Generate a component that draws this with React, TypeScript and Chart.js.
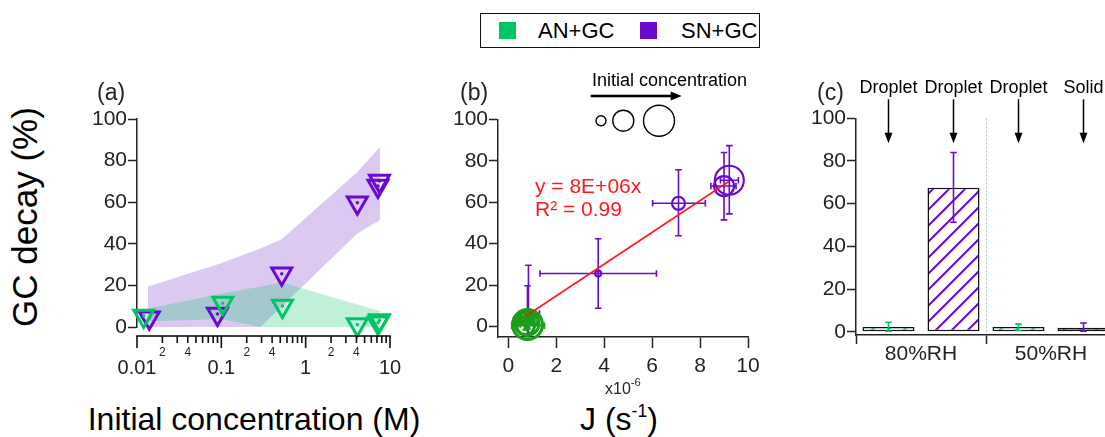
import React, { useEffect, useRef } from 'react';
import { Chart, registerables } from 'chart.js';

Chart.register(...registerables);

const FONT = '"Liberation Sans", Arial, Helvetica, sans-serif';
const INK = '#232323';
const GREEN = '#00C466';
const GREEN_B = '#18A018';
const PURPLE = '#6A0ACD';
const RED = '#FF1A1A';

// ---------- Panel (a): GC decay vs initial concentration ----------
const A_CONC_AN = [0.012, 0.104, 0.53, 4.1, 7.2, 7.5];
const A_DECAY_AN = [5.3, 11.5, 10.1, 1.2, 2.0, 3.1];
const A_CONC_SN = [0.014, 0.09, 0.52, 4.1, 7.2, 7.5];
const A_DECAY_SN = [4.4, 6.3, 25.6, 59.7, 67.8, 70.2];
const A_BAND_X_AN = [0.0108, 0.1, 0.29, 0.52, 7.6];
const A_BAND_HI_AN = [8, 16, 19.5, 21.4, 7.7];
const A_BAND_LO_AN = [2.5, 3.8, 0, 0, 0];
const A_BAND_X_SN = [0.0135, 0.097, 0.29, 0.52, 4.1, 7.6];
const A_BAND_HI_SN = [19.5, 30.5, 37.8, 42.2, 74.5, 86.5];
const A_BAND_LO_SN = [0, 0, 0, 9.9, 45, 51.5];
const A_Y_TICKS = [0, 20, 40, 60, 80, 100];
const A_X_MAJOR = [0.01, 0.1, 1, 10];
const A_X_MAJOR_LABELS = ['0.01', '0.1', '1', '10'];
const A_X_MINOR_MULT = [2, 3, 4, 5, 6, 7, 8, 9];
const A_X_MINOR_LABELLED = [2, 4];

// ---------- Panel (b): GC decay vs J (x10^-6 s^-1) ----------
const B_J_SN = [0.8, 0.84, 3.75, 7.1, 9.0, 9.22];
const B_DECAY_SN = [4.4, 6.3, 25.6, 59.5, 67.8, 70.6];
const B_JLO_SN = [0.55, 0.5, 1.32, 6.02, 8.45, 8.85];
const B_JHI_SN = [1.1, 1.3, 6.18, 8.22, 9.5, 9.6];
const B_YLO_SN = [-11, -17, 8.9, 43.8, 51.5, 54.4];
const B_YHI_SN = [19.7, 29.6, 42.4, 75.7, 84, 87.3];
const B_R_SN = [2, 3, 3, 6.5, 10, 14.5];
const B_J_AN = [0.8, 0.86, 0.75, 0.72, 0.78, 0.8];
const B_DECAY_AN = [4, 5, 3, 0.5, 1.5, 1];
const B_JLO_AN = [0.5, 0.55, 0.45, 0.15, 0.4, 0.5];
const B_JHI_AN = [1.1, 1.2, 1.05, 1.5, 1.2, 1.1];
const B_YLO_AN = [2, 3, 1, -1.5, -0.5, -1];
const B_YHI_AN = [6, 7.5, 5, 2.5, 3.5, 3];
const B_R_AN = [2.5, 3.5, 5, 9, 12, 15];
const B_FIT_J = [0.72, 9.2];
const B_FIT_Y = [5, 70];
const B_X_TICKS = [0, 2, 4, 6, 8, 10];
const B_Y_TICKS = [0, 20, 40, 60, 80, 100];
const B_KEY_DX = [103, 125.3, 161];
const B_KEY_R = [5, 10.5, 15.5];

// ---------- Panel (c): bars ----------
const C_CATEGORIES = ['AN+GC 80%RH', 'SN+GC 80%RH', 'AN+GC 50%RH', 'SN+GC 50%RH'];
const C_STATES = ['Droplet', 'Droplet', 'Droplet', 'Solid'];
const C_GROUPS = ['80%RH', '50%RH'];
const C_AN = [2.2, null, 2.2, null];
const C_SN = [null, 67.5, null, 1.9];
const C_AN_LO = [0.3, null, 0.6, null];
const C_AN_HI = [4.5, null, 3.6, null];
const C_SN_LO = [null, 51.3, null, 0.3];
const C_SN_HI = [null, 84, null, 4.1];
const C_Y_TICKS = [0, 20, 40, 60, 80, 100];

const SERIES = ['AN+GC', 'SN+GC'];
const SERIES_COLORS = [GREEN, PURPLE];

const pts = (xs: number[], ys: number[]) => xs.map((x, i) => ({ x, y: ys[i] }));

function yAxis(min: number, max: number, ticks: number[], width: number) {
  return {
    type: 'linear' as const,
    position: 'left' as const,
    min,
    max,
    afterBuildTicks: (s: any) => {
      s.ticks = ticks.map((v) => ({ value: v }));
    },
    afterFit: (s: any) => {
      s.width = width;
    },
    grid: { display: true, drawOnChartArea: false, drawTicks: true, tickLength: 9, tickColor: INK, tickWidth: 1.5 },
    border: { display: true, color: INK, width: 1.5 },
    ticks: { color: INK, font: { family: FONT, size: 21 }, padding: 1, autoSkip: false },
  };
}

type ErrSet = {
  dataset: number;
  xs: (number | null)[];
  ys: (number | null)[];
  xlo?: (number | null)[];
  xhi?: (number | null)[];
  ylo?: (number | null)[];
  yhi?: (number | null)[];
  color: string;
  width: number;
  cap: number;
};

function errorBars(sets: ErrSet[]) {
  return {
    id: 'errorBars',
    afterDatasetDraw(chart: any, args: any) {
      const { ctx, chartArea: a } = chart;
      const sx = chart.scales.x;
      const sy = chart.scales.y;
      for (const s of sets) {
        if (s.dataset !== args.index) continue;
        ctx.save();
        ctx.beginPath();
        ctx.rect(a.left, a.top - 20, a.right - a.left, a.bottom - a.top + 20);
        ctx.clip();
        ctx.setLineDash([]);
        ctx.strokeStyle = s.color;
        ctx.lineWidth = s.width;
        ctx.beginPath();
        s.xs.forEach((xv, i) => {
          const yv = s.ys[i];
          if (xv == null || yv == null) return;
          const px = sx.getPixelForValue(xv);
          const py = sy.getPixelForValue(yv);
          if (s.ylo && s.yhi && s.ylo[i] != null && s.yhi[i] != null) {
            const p1 = sy.getPixelForValue(s.ylo[i] as number);
            const p2 = sy.getPixelForValue(s.yhi[i] as number);
            ctx.moveTo(px, p1);
            ctx.lineTo(px, p2);
            ctx.moveTo(px - s.cap, p1);
            ctx.lineTo(px + s.cap, p1);
            ctx.moveTo(px - s.cap, p2);
            ctx.lineTo(px + s.cap, p2);
          }
          if (s.xlo && s.xhi && s.xlo[i] != null && s.xhi[i] != null) {
            const q1 = sx.getPixelForValue(s.xlo[i] as number);
            const q2 = sx.getPixelForValue(s.xhi[i] as number);
            ctx.moveTo(q1, py);
            ctx.lineTo(q2, py);
            ctx.moveTo(q1, py - s.cap);
            ctx.lineTo(q1, py + s.cap);
            ctx.moveTo(q2, py - s.cap);
            ctx.lineTo(q2, py + s.cap);
          }
        });
        ctx.stroke();
        ctx.restore();
      }
    },
  };
}

// Detached logarithmic x axis of panel (a), drawn from the chart's own log scale
const logAxisA = {
  id: 'logAxisA',
  afterDraw(chart: any) {
    const { ctx, chartArea } = chart;
    const sx = chart.scales.x;
    const y0 = Math.round(chartArea.bottom + 9);
    const lw = 1.6;
    ctx.save();
    ctx.setLineDash([]);
    ctx.fillStyle = '#111';
    const x0 = sx.getPixelForValue(A_X_MAJOR[0]);
    const x1 = sx.getPixelForValue(A_X_MAJOR[A_X_MAJOR.length - 1]);
    ctx.fillRect(x0 - lw / 2, y0 - lw / 2, x1 - x0 + lw, lw);
    A_X_MAJOR.forEach((v, i) => {
      const px = sx.getPixelForValue(v);
      ctx.fillRect(px - lw / 2, y0, lw, 12);
      if (i < A_X_MAJOR.length - 1) {
        A_X_MINOR_MULT.forEach((m) => {
          const mp = sx.getPixelForValue(v * m);
          ctx.fillRect(mp - lw / 2, y0, lw, 7);
        });
      }
    });
    ctx.fillStyle = INK;
    ctx.textAlign = 'center';
    ctx.textBaseline = 'middle';
    A_X_MAJOR.forEach((v, i) => {
      const px = sx.getPixelForValue(v);
      ctx.font = `20px ${FONT}`;
      ctx.fillText(A_X_MAJOR_LABELS[i], px, y0 + 32);
      if (i < A_X_MAJOR.length - 1) {
        ctx.font = `12px ${FONT}`;
        A_X_MINOR_LABELLED.forEach((m) => {
          ctx.fillText(String(m), sx.getPixelForValue(v * m), y0 + 16.5);
        });
      }
    });
    ctx.restore();
  },
};

const sizeKeyB = {
  id: 'sizeKeyB',
  afterDraw(chart: any) {
    const { ctx, chartArea } = chart;
    const { left, top } = chartArea;
    const y = top - 23.3;
    const x1 = left + 92.7;
    const x2 = left + 183.7;
    ctx.save();
    ctx.setLineDash([]);
    ctx.strokeStyle = '#000';
    ctx.fillStyle = '#000';
    ctx.fillRect(x1, y - 1.3, x2 - 9 - x1, 2.6);
    ctx.beginPath();
    ctx.moveTo(x2 - 11, y - 4.5);
    ctx.lineTo(x2, y);
    ctx.lineTo(x2 - 11, y + 4.5);
    ctx.closePath();
    ctx.fill();
    ctx.lineWidth = 1.4;
    B_KEY_DX.forEach((dx, i) => {
      ctx.beginPath();
      ctx.arc(left + dx, top + 1.4, B_KEY_R[i], 0, Math.PI * 2);
      ctx.stroke();
    });
    ctx.restore();
  },
};

const arrowsC = {
  id: 'arrowsC',
  afterDraw(chart: any) {
    const { ctx, chartArea } = chart;
    const sx = chart.scales.x;
    const top = chartArea.top;
    ctx.save();
    ctx.setLineDash([]);
    ctx.fillStyle = '#000';
    C_STATES.forEach((_, i) => {
      const px = sx.getPixelForValue(i);
      ctx.fillRect(px - 0.75, top - 19, 1.5, 35);
      ctx.beginPath();
      ctx.moveTo(px - 4, top + 14.5);
      ctx.lineTo(px + 4, top + 14.5);
      ctx.lineTo(px, top + 25);
      ctx.closePath();
      ctx.fill();
    });
    ctx.restore();
  },
};

function hatch(bg: string, fg: string): CanvasPattern {
  const s = 16;
  const c = document.createElement('canvas');
  c.width = s;
  c.height = s;
  const g = c.getContext('2d')!;
  g.fillStyle = bg;
  g.fillRect(0, 0, s, s);
  g.strokeStyle = fg;
  g.lineWidth = 2;
  g.beginPath();
  g.moveTo(-2, s + 2);
  g.lineTo(s + 2, -2);
  g.moveTo(-2, 2);
  g.lineTo(2, -2);
  g.moveTo(s - 2, s + 2);
  g.lineTo(s + 2, s - 2);
  g.stroke();
  return g.createPattern(c, 'repeat')!;
}

const base = {
  responsive: false,
  animation: false as const,
  devicePixelRatio: 1,
  events: [] as any[],
};

function configA(): any {
  const tri = (xs: number[], ys: number[], color: string) => ({
    type: 'scatter',
    data: pts(xs, ys),
    pointStyle: 'triangle',
    pointRotation: 180,
    pointRadius: 11.5,
    pointBorderWidth: 3,
    pointBorderColor: color,
    pointBackgroundColor: 'rgba(0,0,0,0)',
    clip: false,
  });
  const dot = (xs: number[], ys: number[], color: string) => ({
    type: 'scatter',
    data: pts(xs, ys),
    pointRadius: 1.7,
    pointBorderWidth: 0,
    pointBackgroundColor: color,
    clip: false,
  });
  const band = (xs: number[], ys: number[], color: string, target: number | boolean) => ({
    type: 'line',
    data: pts(xs, ys),
    borderColor: 'rgba(0,0,0,0)',
    borderWidth: 0,
    pointRadius: 0,
    tension: 0,
    backgroundColor: color,
    fill: target === false ? false : { target },
  });
  return {
    type: 'scatter',
    data: {
      datasets: [
        { ...dot(A_CONC_AN, A_DECAY_AN, GREEN), label: SERIES[0] },
        { ...tri(A_CONC_AN, A_DECAY_AN, GREEN), label: SERIES[0] },
        { ...dot(A_CONC_SN, A_DECAY_SN, PURPLE), label: SERIES[1] },
        { ...tri(A_CONC_SN, A_DECAY_SN, PURPLE), label: SERIES[1] },
        band(A_BAND_X_AN, A_BAND_HI_AN, 'rgba(0,200,100,0.25)', 5),
        band(A_BAND_X_AN, A_BAND_LO_AN, 'rgba(0,0,0,0)', false),
        band(A_BAND_X_SN, A_BAND_HI_SN, 'rgba(100,20,200,0.23)', 7),
        band(A_BAND_X_SN, A_BAND_LO_SN, 'rgba(0,0,0,0)', false),
      ],
    },
    options: {
      ...base,
      layout: { padding: { left: 0, top: 59, right: 30, bottom: 63 } },
      plugins: { legend: { display: false }, tooltip: { enabled: false } },
      scales: {
        x: { type: 'logarithmic', min: 0.01, max: 10, display: false },
        y: yAxis(0, 100, A_Y_TICKS, 77),
      },
    },
    plugins: [logAxisA],
  };
}

function configB(): any {
  return {
    type: 'scatter',
    data: {
      datasets: [
        {
          type: 'line',
          label: 'fit',
          data: pts(B_FIT_J, B_FIT_Y),
          borderColor: RED,
          borderWidth: 1.6,
          pointRadius: 0,
          tension: 0,
          fill: false,
        },
        {
          type: 'scatter',
          label: SERIES[0],
          data: pts(B_J_AN, B_DECAY_AN),
          pointRadius: B_R_AN,
          pointBorderWidth: 3,
          pointBorderColor: GREEN_B,
          pointBackgroundColor: 'rgba(0,0,0,0)',
          clip: false,
        },
        {
          type: 'scatter',
          label: SERIES[1],
          data: pts(B_J_SN, B_DECAY_SN),
          pointRadius: B_R_SN,
          pointBorderWidth: 2.2,
          pointBorderColor: PURPLE,
          pointBackgroundColor: 'rgba(0,0,0,0)',
          clip: false,
        },
      ],
    },
    options: {
      ...base,
      layout: { padding: { left: 0, top: 59.3, right: 22, bottom: 0 } },
      plugins: { legend: { display: false }, tooltip: { enabled: false } },
      scales: {
        x: {
          type: 'linear',
          position: 'bottom',
          min: -0.43,
          max: 10,
          afterBuildTicks: (s: any) => {
            s.ticks = B_X_TICKS.map((v) => ({ value: v }));
          },
          afterFit: (s: any) => {
            s.height = 43;
          },
          grid: { display: true, drawOnChartArea: false, tickLength: 11, tickColor: INK, tickWidth: 1.5 },
          border: { display: true, color: INK, width: 1.5 },
          ticks: { color: INK, font: { family: FONT, size: 21 }, padding: 6, maxRotation: 0, autoSkip: false },
        },
        y: yAxis(-5, 100, B_Y_TICKS, 58),
      },
    },
    plugins: [
      errorBars([
        { dataset: 1, xs: B_J_AN, ys: B_DECAY_AN, xlo: B_JLO_AN, xhi: B_JHI_AN, ylo: B_YLO_AN, yhi: B_YHI_AN, color: GREEN_B, width: 2, cap: 3.3 },
        { dataset: 2, xs: B_J_SN, ys: B_DECAY_SN, xlo: B_JLO_SN, xhi: B_JHI_SN, ylo: B_YLO_SN, yhi: B_YHI_SN, color: PURPLE, width: 1.6, cap: 3.3 },
      ]),
      sizeKeyB,
    ],
  };
}

function configC(): any {
  const idx = C_CATEGORIES.map((_, i) => i);
  const hatchAN = hatch('#ffffff', GREEN);
  const hatchSN = hatch('#ffffff', PURPLE);
  const hatchSNgrey = hatch('#9a9a9a', PURPLE);
  return {
    type: 'bar',
    data: {
      labels: C_CATEGORIES,
      datasets: [
        {
          label: SERIES[0],
          data: C_AN,
          xAxisID: 'x',
          yAxisID: 'y',
          grouped: false,
          barPercentage: 0.8,
          categoryPercentage: 1,
          backgroundColor: [hatchAN, hatchAN, hatchAN, hatchAN],
          borderColor: '#111',
          borderWidth: 1.5,
          borderSkipped: false,
        },
        {
          label: SERIES[1],
          data: C_SN,
          xAxisID: 'x',
          yAxisID: 'y',
          grouped: false,
          barPercentage: 0.8,
          categoryPercentage: 1,
          backgroundColor: [hatchSN, hatchSN, hatchSN, hatchSNgrey],
          borderColor: '#111',
          borderWidth: 1.5,
          borderSkipped: false,
        },
      ],
    },
    options: {
      ...base,
      layout: { padding: { left: 0, top: 0, right: 14, bottom: 0 } },
      plugins: { legend: { display: false }, tooltip: { enabled: false } },
      scales: {
        x: { type: 'category', display: false, offset: true },
        x2: {
          type: 'category',
          labels: C_GROUPS,
          position: 'bottom',
          offset: true,
          afterFit: (s: any) => {
            s.height = 45;
          },
          grid: {
            display: true,
            offset: true,
            drawOnChartArea: true,
            color: (c: any) => (c.index === 1 ? '#b5b5b5' : 'rgba(0,0,0,0)'),
            lineWidth: 1,
            tickLength: 9,
            tickColor: INK,
            tickWidth: 1.5,
          },
          border: { display: true, color: INK, width: 1.5, dash: [2, 2] },
          ticks: { color: INK, font: { family: FONT, size: 21 }, padding: -2, maxRotation: 0, autoSkip: false },
        },
        x3: {
          type: 'category',
          labels: C_STATES,
          position: 'top',
          offset: true,
          afterFit: (s: any) => {
            s.height = 58.3;
          },
          grid: { display: false },
          border: { display: false },
          ticks: { color: '#000', font: { family: FONT, size: 18 }, padding: 11, maxRotation: 0, autoSkip: false },
        },
        y: yAxis(-1.5, 100, C_Y_TICKS, 66),
      },
    },
    plugins: [
      errorBars([
        { dataset: 0, xs: idx, ys: C_AN, ylo: C_AN_LO, yhi: C_AN_HI, color: GREEN, width: 1.6, cap: 3.3 },
        { dataset: 1, xs: idx, ys: C_SN, ylo: C_SN_LO, yhi: C_SN_HI, color: PURPLE, width: 1.6, cap: 3.3 },
      ]),
      arrowsC,
    ],
  };
}

function T(props: { x: number; y: number; size: number; anchor?: 'left' | 'center'; color?: string; children: React.ReactNode }) {
  const { x, y, size, anchor = 'left', color = INK, children } = props;
  return (
    <div
      style={{
        position: 'absolute',
        left: x,
        top: y,
        fontSize: size,
        lineHeight: 1,
        color,
        whiteSpace: 'nowrap',
        transform: `translate(${anchor === 'center' ? '-50%' : '0'}, -50%)`,
      }}
    >
      {children}
    </div>
  );
}

export default function App() {
  const refA = useRef<HTMLCanvasElement>(null);
  const refB = useRef<HTMLCanvasElement>(null);
  const refC = useRef<HTMLCanvasElement>(null);

  useEffect(() => {
    const charts: Chart[] = [];
    if (refA.current) charts.push(new Chart(refA.current, configA()));
    if (refB.current) charts.push(new Chart(refB.current, configB()));
    if (refC.current) charts.push(new Chart(refC.current, configC()));
    return () => charts.forEach((c) => c.destroy());
  }, []);

  const cv = (left: number, top: number, w: number, h: number): React.CSSProperties => ({
    position: 'absolute',
    left,
    top,
    width: w,
    height: h,
  });

  return (
    <div
      style={{
        position: 'fixed',
        left: 0,
        top: 0,
        width: 1105,
        height: 437,
        overflow: 'hidden',
        background: '#fff',
        fontFamily: FONT,
        color: INK,
      }}
    >
      <canvas ref={refA} width={360} height={330} style={cv(60, 60, 360, 330)} />
      <canvas ref={refB} width={330} height={320} style={cv(440, 60, 330, 320)} />
      <canvas ref={refC} width={340} height={320} style={cv(790, 60, 340, 320)} />

      {/* legend */}
      <div
        style={{
          position: 'absolute',
          left: 480,
          top: 13,
          width: 280,
          height: 35,
          boxSizing: 'border-box',
          border: '1.5px solid #111',
        }}
      />
      {SERIES.map((name, i) => (
        <React.Fragment key={name}>
          <div style={{ position: 'absolute', left: i === 0 ? 499 : 640, top: 22, width: 17, height: 17, background: SERIES_COLORS[i] }} />
          <T x={i === 0 ? 538 : 681} y={30.5} size={22} color="#000">
            {name}
          </T>
        </React.Fragment>
      ))}

      <T x={97} y={92} size={23}>(a)</T>
      <T x={460} y={92} size={23}>(b)</T>
      <T x={817} y={92} size={23}>(c)</T>

      <div
        style={{
          position: 'absolute',
          left: 24,
          top: 217,
          fontSize: 35,
          lineHeight: 1,
          whiteSpace: 'nowrap',
          color: '#000',
          transform: 'translate(-50%, -50%) rotate(-90deg)',
        }}
      >
        GC decay (%)
      </div>

      <T x={254} y={419} size={32} anchor="center" color="#000">
        Initial concentration (M)
      </T>
      <T x={619} y={419} size={32} anchor="center" color="#000">
        J (s<sup style={{ fontSize: '0.55em', verticalAlign: '0.75em', lineHeight: 0 }}>-1</sup>)
      </T>
      <T x={605} y={389} size={16}>
        x10<sup style={{ fontSize: '0.7em', verticalAlign: '0.7em', lineHeight: 0 }}>-6</sup>
      </T>

      <T x={592} y={80} size={18} color="#000">
        Initial concentration
      </T>
      <T x={535} y={185} size={21} color={RED}>
        y = 8E+06x
      </T>
      <T x={535} y={208} size={21} color={RED}>
        R² = 0.99
      </T>
    </div>
  );
}
